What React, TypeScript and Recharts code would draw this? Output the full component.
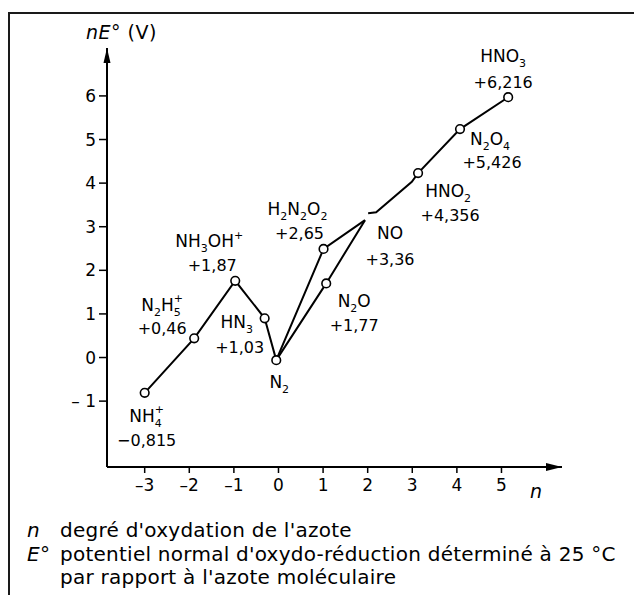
import React from 'react'
import { ScatterChart, Scatter, XAxis, YAxis, ReferenceDot } from 'recharts'

// Frost diagram of nitrogen: n = oxidation state, nE° in volts
const X_TICKS = [-3, -2, -1, 0, 1, 2, 3, 4, 5]
const Y_TICKS = [-1, 0, 1, 2, 3, 4, 5, 6]
const X_DOMAIN: [number, number] = [-3.845, 6.357]
const Y_DOMAIN: [number, number] = [-2.511, 7.099]

type Part = [string, ('n' | 'sub' | 'sup' | 'over')?]

const species: { id: string; n: number; nE: number; formula: Part[]; value: string }[] = [
  { id: 'NH4', n: -3, nE: -0.81, formula: [['NH'], ['4', 'sub'], ['+', 'over']], value: '−0,815' },
  { id: 'N2H5', n: -1.89, nE: 0.44, formula: [['N'], ['2', 'sub'], ['H'], ['5', 'sub'], ['+', 'over']], value: '+0,46' },
  { id: 'NH3OH', n: -0.97, nE: 1.76, formula: [['NH'], ['3', 'sub'], ['OH'], ['+', 'sup']], value: '+1,87' },
  { id: 'HN3', n: -0.31, nE: 0.9, formula: [['HN'], ['3', 'sub']], value: '+1,03' },
  { id: 'N2', n: -0.05, nE: -0.06, formula: [['N'], ['2', 'sub']], value: '' },
  { id: 'H2N2O2', n: 1.01, nE: 2.49, formula: [['H'], ['2', 'sub'], ['N'], ['2', 'sub'], ['O'], ['2', 'sub']], value: '+2,65' },
  { id: 'N2O', n: 1.07, nE: 1.7, formula: [['N'], ['2', 'sub'], ['O']], value: '+1,77' },
  { id: 'NO', n: 1.94, nE: 3.15, formula: [['NO']], value: '+3,36' },
  { id: 'HNO2', n: 3.13, nE: 4.23, formula: [['HNO'], ['2', 'sub']], value: '+4,356' },
  { id: 'N2O4', n: 4.07, nE: 5.24, formula: [['N'], ['2', 'sub'], ['O'], ['4', 'sub']], value: '+5,426' },
  { id: 'HNO3', n: 5.15, nE: 5.97, formula: [['HNO'], ['3', 'sub']], value: '+6,216' },
]

// connecting lines
const lowerBranch = [
  { n: -3, nE: -0.81 },
  { n: -1.89, nE: 0.44 },
  { n: -0.97, nE: 1.76 },
  { n: -0.31, nE: 0.9 },
  { n: -0.05, nE: -0.06 },
]
const viaH2N2O2 = [
  { n: -0.05, nE: -0.06 },
  { n: 1.01, nE: 2.49 },
  { n: 1.94, nE: 3.15 },
]
const viaN2O = [
  { n: -0.05, nE: -0.06 },
  { n: 1.07, nE: 1.7 },
  { n: 1.94, nE: 3.15 },
]
const upperBranch = [
  { n: 2.01, nE: 3.31 },
  { n: 2.19, nE: 3.33 },
  { n: 2.99, nE: 4.03 },
  { n: 3.13, nE: 4.23 },
  { n: 4.07, nE: 5.24 },
  { n: 5.15, nE: 5.97 },
]

// label placement, pixel offsets from the point: [formula dx, dy], [value dx, dy]
const LABEL_OFFSETS: Record<string, { f: [number, number]; v: [number, number] }> = {
  NH4: { f: [2, 23], v: [2, 47] },
  N2H5: { f: [-32, -33], v: [-32, -10] },
  NH3OH: { f: [-26, -40], v: [-23, -16] },
  HN3: { f: [-28, 4], v: [-25, 29] },
  N2: { f: [3, 22], v: [0, 0] },
  H2N2O2: { f: [-26, -40], v: [-24, -16] },
  N2O: { f: [28, 18], v: [28, 42] },
  NO: { f: [25, 13], v: [25, 39] },
  HNO2: { f: [30, 18], v: [32, 42] },
  N2O4: { f: [30, 10], v: [32, 33] },
  HNO3: { f: [-5, -41], v: [-5, -15] },
}

const FONT = '"DejaVu Sans", sans-serif'
const dash = (v: number) => (v < 0 ? '–' + Math.abs(v) : String(v))

function renderParts(parts: Part[]) {
  let shift = 0
  return parts.map(([t, k = 'n'], i) => {
    let target = 0
    let fs = 17
    let dx = 0
    if (k === 'sub') { target = 5; fs = 11 }
    if (k === 'sup') { target = -8; fs = 11 }
    if (k === 'over') { target = -9; fs = 11; dx = -7 }
    const dy = target - shift
    shift = target
    return (
      <tspan key={i} dx={dx || undefined} dy={dy} fontSize={fs}>
        {t}
      </tspan>
    )
  })
}

const noMark = () => <g />

const circleMark = (p: any) => (
  <circle cx={p.cx} cy={p.cy} r={4.3} fill="#fff" stroke="#000" strokeWidth={1.6} />
)

const labelMark = (p: any) => {
  const s = p.payload
  const o = LABEL_OFFSETS[s.id]
  return (
    <g>
      <text x={p.cx + o.f[0]} y={p.cy + o.f[1] + 6} textAnchor="middle" fontSize={17} fill="#000">
        {renderParts(s.formula)}
      </text>
      {s.value && (
        <text x={p.cx + o.v[0]} y={p.cy + o.v[1] + 6} textAnchor="middle" fontSize={16} fill="#000">
          {s.value}
        </text>
      )}
    </g>
  )
}

const rightArrow = (p: any) => (
  <polygon points={`${p.cx},${p.cy} ${p.cx - 16},${p.cy - 4} ${p.cx - 16},${p.cy + 4}`} fill="#000" />
)
const upArrow = (p: any) => (
  <polygon points={`${p.cx},${p.cy} ${p.cx - 3.5},${p.cy + 15} ${p.cx + 3.5},${p.cy + 15}`} fill="#000" />
)

const lineStyle = { stroke: '#000', strokeWidth: 2 }

export default function App() {
  return (
    <div style={{ position: 'relative', width: 634, height: 595, overflow: 'hidden', background: '#fff', fontFamily: FONT, color: '#000' }}>
      <style>{'body{margin:0;overflow:hidden}'}</style>
      <div
        style={{
          position: 'absolute', left: 8, top: 12, width: 700, height: 700,
          borderLeft: '2px solid #1a1a1a', borderTop: '2px solid #1a1a1a',
        }}
      />
      <div style={{ position: 'absolute', left: 0, top: 0 }}>
        <ScatterChart width={634} height={595} margin={{ top: 48, right: 72, bottom: 88, left: 67 }} style={{ fontFamily: FONT }}>
          <XAxis
            dataKey="n"
            type="number"
            domain={X_DOMAIN}
            ticks={X_TICKS}
            height={40}
            tickSize={6}
            tickMargin={6}
            tickFormatter={dash}
            tick={{ fontSize: 17, fill: '#000', fontFamily: FONT }}
            tickLine={{ stroke: '#000', strokeWidth: 1.5 }}
            axisLine={{ stroke: '#000', strokeWidth: 2 }}
          />
          <YAxis
            dataKey="nE"
            type="number"
            domain={Y_DOMAIN}
            ticks={Y_TICKS}
            width={40}
            tickSize={8}
            tickMargin={3}
            tickFormatter={(v: number) => (v < 0 ? '– ' + Math.abs(v) : String(v))}
            tick={{ fontSize: 17, fill: '#000', fontFamily: FONT }}
            tickLine={{ stroke: '#000', strokeWidth: 1.5 }}
            axisLine={{ stroke: '#000', strokeWidth: 2 }}
          />
          <Scatter data={lowerBranch} line={lineStyle} fill="#000" shape={noMark} isAnimationActive={false} />
          <Scatter data={viaH2N2O2} line={lineStyle} fill="#000" shape={noMark} isAnimationActive={false} />
          <Scatter data={viaN2O} line={lineStyle} fill="#000" shape={noMark} isAnimationActive={false} />
          <Scatter data={upperBranch} line={lineStyle} fill="#000" shape={noMark} isAnimationActive={false} />
          <Scatter data={species.filter((s) => s.id !== 'NO')} fill="#fff" shape={circleMark} isAnimationActive={false} />
          <Scatter data={species} fill="#000" shape={labelMark} isAnimationActive={false} />
          <ReferenceDot x={X_DOMAIN[1]} y={Y_DOMAIN[0]} r={4} ifOverflow="visible" shape={rightArrow} />
          <ReferenceDot x={X_DOMAIN[0]} y={Y_DOMAIN[1]} r={4} ifOverflow="visible" shape={upArrow} />
        </ScatterChart>
      </div>

      <div style={{ position: 'absolute', left: 86, top: 21, fontSize: 19, letterSpacing: 0.5, whiteSpace: 'nowrap' }}>
        <i>nE°</i> (V)
      </div>
      <div style={{ position: 'absolute', left: 530, top: 480, fontSize: 19 }}>
        <i>n</i>
      </div>

      {[
        { key: 'n', text: "degré d'oxydation de l'azote", top: 519 },
        { key: 'E°', text: "potentiel normal d'oxydo-réduction déterminé à 25 °C", top: 543 },
        { key: '', text: "par rapport à l'azote moléculaire", top: 566 },
      ].map((l) => (
        <div key={l.top} style={{ position: 'absolute', top: l.top, left: 0, fontSize: 20, lineHeight: '23px', whiteSpace: 'nowrap', letterSpacing: 0.25 }}>
          <span style={{ position: 'absolute', left: 27, fontStyle: 'italic' }}>{l.key}</span>
          <span style={{ position: 'absolute', left: 60 }}>{l.text}</span>
        </div>
      ))}
    </div>
  )
}
